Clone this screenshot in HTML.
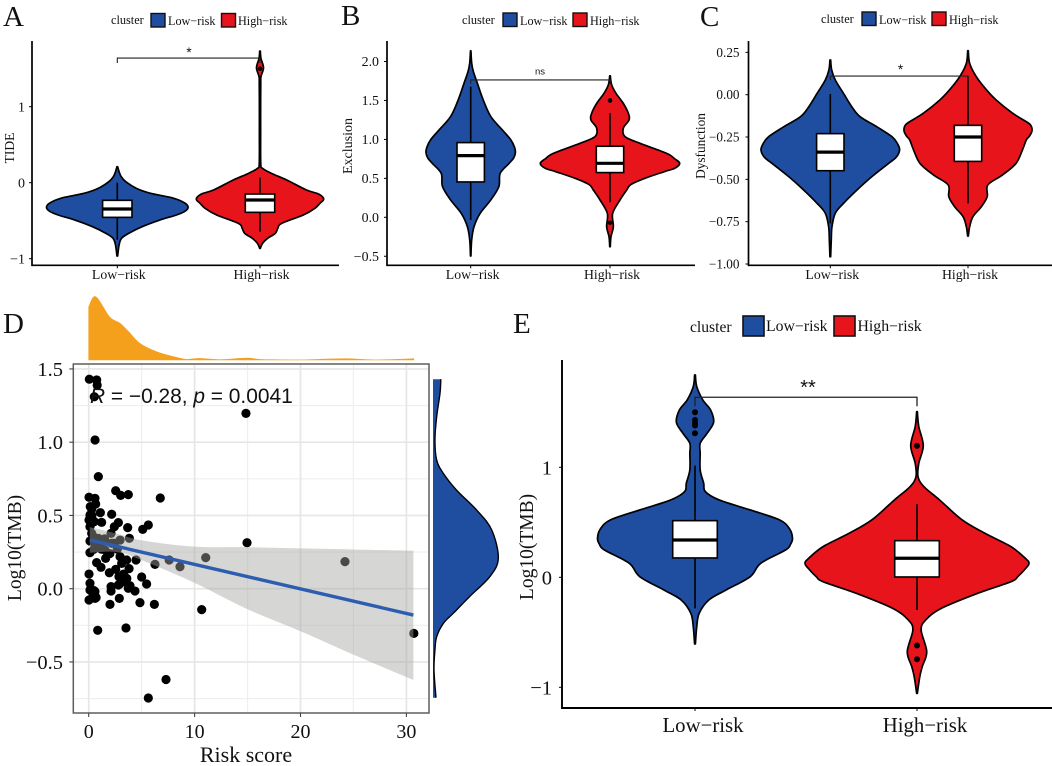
<!DOCTYPE html>
<html lang="en">
<head>
<meta charset="utf-8">
<title>Risk cluster immune score violins and TMB correlation</title>
<style>
html,body{margin:0;padding:0;background:#fff;}
svg{display:block;}
text{font-family:"Liberation Serif",serif;fill:#111;}
.sans{font-family:"Liberation Sans",sans-serif;}
</style>
</head>
<body>
<svg id="figure" xmlns="http://www.w3.org/2000/svg" width="1052" height="766" viewBox="0 0 1052 766">
  <rect x="0" y="0" width="1052" height="766" fill="#ffffff"/>

  <text x="3" y="26" font-size="29">A</text>
  <text x="341" y="25" font-size="29">B</text>
  <text x="700" y="26" font-size="29">C</text>
  <text x="3" y="333" font-size="29">D</text>
  <text x="513" y="333" font-size="29">E</text>

  <g>
    <text x="111" y="24" font-size="12.3">cluster</text>
    <rect x="151" y="13.5" width="14" height="13.5" fill="#1f4ea1" stroke="#111" stroke-width="1.4"/>
    <text x="168" y="25" font-size="12.2">Low−risk</text>
    <rect x="221.5" y="13.5" width="14" height="13.5" fill="#e8141c" stroke="#111" stroke-width="1.4"/>
    <text x="238" y="25" font-size="12.2">High−risk</text>
  </g>
  <g>
    <text x="462" y="24" font-size="12.3">cluster</text>
    <rect x="503" y="13" width="14" height="13.5" fill="#1f4ea1" stroke="#111" stroke-width="1.4"/>
    <text x="520" y="25" font-size="12.2">Low−risk</text>
    <rect x="573" y="13" width="14" height="13.5" fill="#e8141c" stroke="#111" stroke-width="1.4"/>
    <text x="590" y="25" font-size="12.2">High−risk</text>
  </g>
  <g>
    <text x="821" y="23" font-size="12.3">cluster</text>
    <rect x="862" y="12" width="14" height="13.5" fill="#1f4ea1" stroke="#111" stroke-width="1.4"/>
    <text x="879" y="24" font-size="12.2">Low−risk</text>
    <rect x="932" y="12" width="14" height="13.5" fill="#e8141c" stroke="#111" stroke-width="1.4"/>
    <text x="949" y="24" font-size="12.2">High−risk</text>
  </g>
  <g>
    <text x="690" y="332" font-size="15.6">cluster</text>
    <rect x="743" y="316" width="21" height="20" fill="#1f4ea1" stroke="#111" stroke-width="1.6"/>
    <text x="766" y="331" font-size="15.8">Low−risk</text>
    <rect x="834" y="316" width="21" height="20" fill="#e8141c" stroke="#111" stroke-width="1.6"/>
    <text x="857.5" y="331" font-size="15.8">High−risk</text>
  </g>

  <text transform="translate(14,148) rotate(-90)" text-anchor="middle" font-size="13.5">TIDE</text>
  <text transform="translate(352,146) rotate(-90)" text-anchor="middle" font-size="14">Exclusion</text>
  <text transform="translate(705,146) rotate(-90)" text-anchor="middle" font-size="13.3">Dysfunction</text>
  <text transform="translate(21,548) rotate(-90)" text-anchor="middle" font-size="19.5">Log10(TMB)</text>
  <text transform="translate(533,547) rotate(-90)" text-anchor="middle" font-size="19.5">Log10(TMB)</text>
  <text x="246" y="762" text-anchor="middle" font-size="22">Risk score</text>

  <g id="panel-a"></g>
  <g id="panel-b"></g>
  <g id="panel-c"></g>
  <g id="panel-d"></g>
  <g id="panel-e"></g>

  <text class="sans" x="90" y="403" font-size="20.9"><tspan font-style="italic" class="sans">R</tspan> = −0.28, <tspan font-style="italic" class="sans">p</tspan> = 0.0041</text>
</svg>

<script>
/* ---------- chart data ---------- */
const categories = ['Low−risk', 'High−risk'];

const tideTicks = [-1, 0, 1];
const tideTickLabels = ['−1', '0', '1'];
const tideLowValue = [0.21, 0.145, 0.08, 0.013, -0.075, -0.14, -0.2, -0.265, -0.325, -0.38, -0.43, -0.491, -0.579, -0.667, -0.732, -0.82, -0.965];
const tideLowDensity = [0.005, 0.025, 0.055, 0.12, 0.27, 0.47, 0.78, 0.95, 1, 0.95, 0.82, 0.6, 0.35, 0.16, 0.06, 0.025, 0.005];
const tideHighValue = [1.732, 1.636, 1.513, 1.395, 1.307, 1.088, 0.649, 0.254, 0.189, 0.123, 0.035, -0.096, -0.149, -0.215, -0.272, -0.338, -0.425, -0.535, -0.6, -0.667, -0.732, -0.798, -0.864];
const tideHighDensity = [0.005, 0.015, 0.055, 0.015, 0.012, 0.01, 0.01, 0.012, 0.04, 0.18, 0.42, 0.73, 0.92, 1, 0.94, 0.86, 0.68, 0.34, 0.28, 0.24, 0.12, 0.04, 0.005];
const tideLowBox = [-0.75, -0.456, -0.346, -0.232, 0];
const tideHighBox = [-0.645, -0.39, -0.228, -0.149, 0.066];
const tideLowOutliers = [];
const tideHighOutliers = [1.5];
const tideBracket = [1.64];

const exclusionTicks = [-0.5, 0, 0.5, 1, 1.5, 2];
const exclusionTickLabels = ['−0.5', '0.0', '0.5', '1.0', '1.5', '2.0'];
const exclusionLowValue = [2.136, 1.98, 1.87, 1.72, 1.507, 1.293, 1.12, 0.993, 0.9, 0.83, 0.76, 0.693, 0.565, 0.394, 0.223, 0.05, -0.12, -0.29, -0.497];
const exclusionLowDensity = [0.005, 0.022, 0.06, 0.15, 0.28, 0.45, 0.71, 0.9, 0.98, 1, 0.96, 0.86, 0.66, 0.63, 0.45, 0.21, 0.075, 0.022, 0.005];
const exclusionHighValue = [1.815, 1.7, 1.592, 1.464, 1.336, 1.25, 1.143, 1.036, 0.95, 0.822, 0.75, 0.693, 0.63, 0.586, 0.5, 0.42, 0.351, 0.223, 0.05, -0.12, -0.25, -0.377];
const exclusionHighDensity = [0.004, 0.024, 0.086, 0.19, 0.263, 0.273, 0.191, 0.215, 0.43, 0.81, 0.93, 1, 0.93, 0.78, 0.5, 0.3, 0.24, 0.144, 0.038, 0.048, 0.014, 0.004];
const exclusionLowBox = [-0.034, 0.454, 0.792, 0.959, 1.678];
const exclusionHighBox = [0.193, 0.574, 0.693, 0.912, 1.336];
const exclusionLowOutliers = [];
const exclusionHighOutliers = [1.5, -0.07];
const exclusionBracket = [1.763];

const dysfunctionTicks = [-1, -0.75, -0.5, -0.25, 0, 0.25];
const dysfunctionTickLabels = ['−1.00', '−0.75', '−0.50', '−0.25', '0.00', '0.25'];
const dysfunctionLowValue = [0.205, 0.146, 0.087, 0.008, -0.071, -0.13, -0.189, -0.248, -0.29, -0.327, -0.37, -0.406, -0.484, -0.563, -0.642, -0.7, -0.78, -0.858, -0.957];
const dysfunctionLowDensity = [0.005, 0.02, 0.072, 0.19, 0.31, 0.43, 0.67, 0.89, 0.97, 1, 0.95, 0.84, 0.6, 0.385, 0.19, 0.072, 0.024, 0.014, 0.005];
const dysfunctionHighValue = [0.26, 0.185, 0.106, 0.028, -0.031, -0.11, -0.159, -0.18, -0.213, -0.245, -0.268, -0.327, -0.406, -0.474, -0.533, -0.602, -0.661, -0.72, -0.78, -0.835];
const dysfunctionHighDensity = [0.005, 0.026, 0.13, 0.29, 0.44, 0.7, 0.91, 0.98, 1, 0.96, 0.91, 0.85, 0.75, 0.54, 0.31, 0.3, 0.21, 0.078, 0.026, 0.005];
const dysfunctionLowBox = [-0.76, -0.449, -0.339, -0.23, 0.004];
const dysfunctionHighBox = [-0.642, -0.394, -0.25, -0.181, 0.11];
const dysfunctionLowOutliers = [];
const dysfunctionHighOutliers = [];
const dysfunctionBracket = [0.11];

const tmbTicks = [-1, 0, 1];
const tmbTickLabels = ['−1', '0', '1'];
const tmbLowValue = [1.839, 1.733, 1.612, 1.521, 1.409, 1.309, 1.218, 1.127, 0.976, 0.855, 0.779, 0.703, 0.612, 0.521, 0.44, 0.355, 0.3, 0.248, 0.127, 0.006, -0.115, -0.206, -0.327, -0.448, -0.606];
const tmbLowDensity = [0.004, 0.018, 0.08, 0.16, 0.191, 0.124, 0.053, 0.053, 0.053, 0.089, 0.106, 0.248, 0.567, 0.869, 0.97, 1, 0.98, 0.929, 0.674, 0.567, 0.319, 0.142, 0.043, 0.018, 0.004];
const tmbHighValue = [1.506, 1.37, 1.197, 1.036, 0.915, 0.824, 0.703, 0.521, 0.4, 0.279, 0.17, 0.127, 0.08, 0.006, -0.04, -0.145, -0.282, -0.388, -0.479, -0.676, -0.812, -0.903, -1.055];
const tmbHighDensity = [0.003, 0.016, 0.056, 0.016, 0.009, 0.062, 0.202, 0.404, 0.606, 0.839, 0.97, 1, 0.97, 0.9, 0.839, 0.543, 0.217, 0.078, 0.037, 0.087, 0.047, 0.025, 0.003];
const tmbLowBox = [-0.282, 0.176, 0.339, 0.515, 1.015];
const tmbHighBox = [-0.297, 0.003, 0.173, 0.333, 0.667];
const tmbLowOutliers = [1.5, 1.43, 1.4, 1.38, 1.31];
const tmbHighOutliers = [1.195, -0.62, -0.745];
const tmbBracket = [1.637];

const scatterXTicks = [0, 10, 20, 30];
const scatterXTickLabels = ['0', '10', '20', '30'];
const scatterYTicks = [-0.5, 0, 0.5, 1, 1.5];
const scatterYTickLabels = ['−0.5', '0.0', '0.5', '1.0', '1.5'];
const scatterXMinorGrid = [5, 15, 25];
const scatterYMinorGrid = [-0.75, -0.25, 0.25, 0.75, 1.25];

const riskScores = [0.06, 0.75, 0.8, 0.53, 0.6, 0.91, 14.85, 2.55, 3.02, 3.74, 6.76, 0.03, 0.59, 0.66, 0.28, 1.1, 2.17, 0.12, 0.03, 0.53, 1.22, 2.8, 2.42, 0.12, 3.68, 5.63, 5.1, 2.11, 0.28, 2.96, 3.84, 0.12, 0.91, 1.07, 0.59, 2.17, 1.54, 0.12, 0.75, 1.16, 1.6, 2.96, 3.58, 4.47, 3.11, 3.81, 6.26, 7.6, 8.62, 11.05, 14.95, 0.03, 1.95, 2.55, 2.86, 5, 5.47, 0.12, 0.12, 0.59, 2.11, 2.8, 3.27, 3.74, 4.37, 2.11, 0.5, 0.03, 0.6, 2.01, 2.89, 4.84, 6.2, 10.67, 0.85, 3.52, 24.2, 30.7, 5.63, 7.3, 0.4, 0.8, 1.2, 0.5, 1.5, 2, 2.4, 2.7, 0.2, 0.3, 0.15, 3.3, 3.6, 3.9, 2.9, 0.2, 0.4, 0.7];
const tmbValues = [1.43, 1.425, 1.39, 1.31, 1.015, 0.765, 1.197, 0.669, 0.637, 0.642, 0.619, 0.624, 0.617, 0.578, 0.542, 0.519, 0.508, 0.503, 0.469, 0.458, 0.453, 0.451, 0.423, 0.423, 0.417, 0.435, 0.405, 0.378, 0.378, 0.332, 0.344, 0.326, 0.344, 0.298, 0.276, 0.31, 0.264, 0.246, 0.178, 0.146, 0.207, 0.219, 0.196, 0.196, 0.173, 0.137, 0.166, 0.196, 0.15, 0.212, 0.314, 0.1, 0.109, 0.132, 0.082, 0.08, 0.032, 0.037, -0.009, -0.02, 0.014, 0.025, 0.048, 0.003, -0.016, -0.016, -0.013, -0.077, -0.066, -0.107, -0.066, -0.095, -0.107, -0.143, -0.284, -0.268, 0.185, -0.305, -0.746, -0.62, 0.36, 0.31, 0.27, 0.27, 0.34, 0.24, 0.31, 0.27, 0.44, 0.5, 0.56, 0.1, 0.07, 0.02, 0.03, 0, -0.05, -0.06];

const fitRisk = [0.1, 30.66];
const fitTmb = [0.332, -0.18];
const bandRisk = [0.1, 2.7, 5, 10, 15, 20, 25, 30.66];
const bandUpper = [0.42, 0.375, 0.33, 0.287, 0.283, 0.275, 0.268, 0.259];
const bandLower = [0.245, 0.25, 0.195, 0.04, -0.14, -0.29, -0.45, -0.623];

const topDensityRisk = [0, 0.66, 1.98, 2.95, 3.75, 4.85, 6.42, 8.31, 9.25, 10.5, 12.4, 14.9, 16.2, 18, 20, 24.2, 27, 30.7];
const topDensityValue = [0.84, 1, 0.68, 0.58, 0.45, 0.26, 0.13, 0.04, 0.01, 0.025, 0.005, 0.03, 0.01, 0.004, 0.002, 0.02, 0.002, 0.02];
const rightDensityTmb = [1.43, 1.333, 1.174, 1.015, 0.878, 0.787, 0.673, 0.536, 0.4, 0.207, 0.082, -0.054, -0.168, -0.237, -0.328, -0.418, -0.555, -0.744];
const rightDensityValue = [0.12, 0.107, 0.056, 0.03, 0.056, 0.158, 0.36, 0.67, 0.9, 1, 0.87, 0.56, 0.31, 0.158, 0.056, 0.03, 0.015, 0.046];

/* ---------- helpers ---------- */
const SVG_NS = 'http://www.w3.org/2000/svg';
const BLUE = '#1f4ea1';
const RED = '#e8141c';

function make(tag, attrs, parent) {
  const el = document.createElementNS(SVG_NS, tag);
  for (const key in attrs) el.setAttribute(key, attrs[key]);
  parent.appendChild(el);
  return el;
}

function smooth(points) {
  let d = '';
  for (let i = 0; i < points.length - 1; i++) {
    const p0 = points[Math.max(i - 1, 0)];
    const p1 = points[i];
    const p2 = points[i + 1];
    const p3 = points[Math.min(i + 2, points.length - 1)];
    const c1x = p1[0] + (p2[0] - p0[0]) / 6;
    const c1y = p1[1] + (p2[1] - p0[1]) / 6;
    const c2x = p2[0] - (p3[0] - p1[0]) / 6;
    const c2y = p2[1] - (p3[1] - p1[1]) / 6;
    d += 'C' + c1x.toFixed(2) + ' ' + c1y.toFixed(2) + ' ' + c2x.toFixed(2) + ' ' + c2y.toFixed(2) + ' ' + p2[0].toFixed(2) + ' ' + p2[1].toFixed(2);
  }
  return d;
}

function drawViolin(g, name, cx, fill, maxHalf, values, density, yScale, strokeW) {
  const right = values.map((v, i) => [cx + density[i] * maxHalf, yScale(v)]);
  const left = values.map((v, i) => [cx - density[i] * maxHalf, yScale(v)]).reverse();
  const d = 'M' + cx + ' ' + yScale(values[0]).toFixed(2) + 'L' + right[0][0].toFixed(2) + ' ' + right[0][1].toFixed(2) + smooth(right) +
    'L' + left[0][0].toFixed(2) + ' ' + left[0][1].toFixed(2) + smooth(left) + 'Z';
  const el = make('path', { d: d, fill: fill, stroke: '#000', 'stroke-width': strokeW, 'stroke-linejoin': 'round' }, g);
  
  
}

function drawBox(g, name, cx, halfBox, stats, outliers, yScale, lineW, dotR) {
  const whisker = make('line', { x1: cx, x2: cx, y1: yScale(stats[0]), y2: yScale(stats[4]), stroke: '#000', 'stroke-width': lineW }, g);
  
  
  const box = make('rect', { x: cx - halfBox, y: yScale(stats[3]), width: halfBox * 2, height: yScale(stats[1]) - yScale(stats[3]), fill: '#fff', stroke: '#000', 'stroke-width': lineW }, g);
  
  
  const median = make('line', { x1: cx - halfBox, x2: cx + halfBox, y1: yScale(stats[2]), y2: yScale(stats[2]), stroke: '#000', 'stroke-width': lineW * 2 }, g);
  
  
  outliers.forEach(function (v) {
    const dot = make('circle', { cx: cx, cy: yScale(v), r: dotR, fill: '#000' }, g);
    
    
  });
}

function drawViolinPanel(id, o) {
  const g = document.getElementById(id);
  const yScale = function (v) { return o.zeroY - v * o.pxPerUnit; };
  const xScale = function (i) { return o.centers[i]; };

  drawViolin(g, 'low-risk', xScale(0), BLUE, o.halfLow, o.lowValue, o.lowDensity, yScale, o.violinW);
  drawViolin(g, 'high-risk', xScale(1), RED, o.halfHigh, o.highValue, o.highDensity, yScale, o.violinW);
  drawBox(g, 'low-risk', xScale(0), o.halfBox, o.lowBox, o.lowOut, yScale, o.line, o.dotR);
  drawBox(g, 'high-risk', xScale(1), o.halfBox, o.highBox, o.highOut, yScale, o.line, o.dotR);

  const by = yScale(o.bracket[0]);
  const bracket = make('path', {
    d: 'M' + xScale(0) + ' ' + (by + o.tip) + 'V' + by + 'H' + xScale(1) + 'V' + (by + o.tip),
    fill: 'none', stroke: '#222', 'stroke-width': o.bracketW
  }, g);
  
  
  const sig = make('text', { x: o.sigX, y: o.sigY, 'text-anchor': 'middle', 'font-size': o.sigSize, class: 'sans' }, g);
  
  
  sig.textContent = o.sig;

  const yAxis = make('line', { x1: o.left, x2: o.left, y1: o.top, y2: o.bottom + o.axisW / 2, stroke: '#000', 'stroke-width': o.axisW }, g);
  
  
  const xAxis = make('line', { x1: o.left, x2: o.right, y1: o.bottom, y2: o.bottom, stroke: '#000', 'stroke-width': o.axisW }, g);
  
  

  o.ticks.forEach(function (v, i) {
    const tick = make('line', { x1: o.left - 3, x2: o.left, y1: yScale(v), y2: yScale(v), stroke: '#000', 'stroke-width': 1 }, g);
    
    
    const label = make('text', { x: o.left - o.tickGap, y: yScale(v) + o.tickSize * 0.34, 'text-anchor': 'end', 'font-size': o.tickSize }, g);
    
    
    label.textContent = o.tickLabels[i];
  });
  categories.forEach(function (c, i) {
    const tick = make('line', { x1: xScale(i), x2: xScale(i), y1: o.bottom, y2: o.bottom + 3, stroke: '#000', 'stroke-width': 1 }, g);
    
    
    const label = make('text', { x: xScale(i) + o.catShift, y: o.catY, 'text-anchor': 'middle', 'font-size': o.catSize }, g);
    
    
    label.textContent = c;
  });
}

/* ---------- panels A, B, C, E ---------- */
drawViolinPanel('panel-a', {
  zeroY: 182.7, pxPerUnit: 76, centers: [117.3, 260], halfLow: 70.8, halfHigh: 63.7, halfBox: 14.7,
  lowValue: tideLowValue, lowDensity: tideLowDensity, highValue: tideHighValue, highDensity: tideHighDensity,
  lowBox: tideLowBox, highBox: tideHighBox, lowOut: tideLowOutliers, highOut: tideHighOutliers,
  bracket: tideBracket, tip: 5, bracketW: 1.1, sig: '*', sigX: 189, sigY: 57, sigSize: 13.5,
  left: 32, right: 339, top: 41, bottom: 265.3, axisW: 1.7, line: 1.6, violinW: 1.7, dotR: 2.3,
  ticks: tideTicks, tickLabels: tideTickLabels, tickSize: 14, tickGap: 7,
  catShift: 1.5, catY: 279, catSize: 13.8
});
drawViolinPanel('panel-b', {
  zeroY: 217.3, pxPerUnit: 77.9, centers: [470.7, 610], halfLow: 44.7, halfHigh: 69.7, halfBox: 13.7,
  lowValue: exclusionLowValue, lowDensity: exclusionLowDensity, highValue: exclusionHighValue, highDensity: exclusionHighDensity,
  lowBox: exclusionLowBox, highBox: exclusionHighBox, lowOut: exclusionLowOutliers, highOut: exclusionHighOutliers,
  bracket: exclusionBracket, tip: 4, bracketW: 1.1, sig: 'ns', sigX: 540, sigY: 74.5, sigSize: 9.5,
  left: 387, right: 695, top: 41, bottom: 265.3, axisW: 1.7, line: 1.6, violinW: 1.7, dotR: 2.3,
  ticks: exclusionTicks, tickLabels: exclusionTickLabels, tickSize: 13.9, tickGap: 8,
  catShift: 2, catY: 279, catSize: 13.8
});
drawViolinPanel('panel-c', {
  zeroY: 94.7, pxPerUnit: 169.3, centers: [830.3, 968], halfLow: 69.3, halfHigh: 64, halfBox: 13.7,
  lowValue: dysfunctionLowValue, lowDensity: dysfunctionLowDensity, highValue: dysfunctionHighValue, highDensity: dysfunctionHighDensity,
  lowBox: dysfunctionLowBox, highBox: dysfunctionHighBox, lowOut: dysfunctionLowOutliers, highOut: dysfunctionHighOutliers,
  bracket: dysfunctionBracket, tip: 4, bracketW: 1.1, sig: '*', sigX: 900.5, sigY: 74, sigSize: 13.5,
  left: 748.5, right: 1052, top: 41, bottom: 265.3, axisW: 1.7, line: 1.6, violinW: 1.7, dotR: 2.3,
  ticks: dysfunctionTicks, tickLabels: dysfunctionTickLabels, tickSize: 13.2, tickGap: 9,
  catShift: 2, catY: 279, catSize: 13.8
});
drawViolinPanel('panel-e', {
  zeroY: 577.3, pxPerUnit: 110, centers: [695, 917], halfLow: 97.5, halfHigh: 112, halfBox: 22.3,
  lowValue: tmbLowValue, lowDensity: tmbLowDensity, highValue: tmbHighValue, highDensity: tmbHighDensity,
  lowBox: tmbLowBox, highBox: tmbHighBox, lowOut: tmbLowOutliers, highOut: tmbHighOutliers,
  bracket: tmbBracket, tip: 9, bracketW: 1.3, sig: '**', sigX: 808, sigY: 394, sigSize: 20,
  left: 562, right: 1052, top: 360, bottom: 708, axisW: 1.9, line: 1.6, violinW: 1.7, dotR: 3,
  ticks: tmbTicks, tickLabels: tmbTickLabels, tickSize: 20.5, tickGap: 10,
  catShift: 8, catY: 732, catSize: 20.8
});

/* ---------- panel D: scatter with marginal densities ---------- */
(function () {
  const g = document.getElementById('panel-d');
  const frame = { left: 73.3, right: 429, top: 364, bottom: 713 };
  const x = function (v) { return 88.7 + v * 10.59; };
  const y = function (v) { return 588.7 - v * 146.5; };

  scatterYMinorGrid.forEach(function (v) {
    const line = make('line', { x1: frame.left, x2: frame.right, y1: y(v), y2: y(v), stroke: '#efefef', 'stroke-width': 1.2 }, g);
    
    
  });
  scatterXMinorGrid.forEach(function (v) {
    const line = make('line', { x1: x(v), x2: x(v), y1: frame.top, y2: frame.bottom, stroke: '#efefef', 'stroke-width': 1.2 }, g);
    
    
  });
  scatterYTicks.forEach(function (v) {
    const line = make('line', { x1: frame.left, x2: frame.right, y1: y(v), y2: y(v), stroke: '#e6e6e6', 'stroke-width': 1.7 }, g);
    
    
  });
  scatterXTicks.forEach(function (v) {
    const line = make('line', { x1: x(v), x2: x(v), y1: frame.top, y2: frame.bottom, stroke: '#e6e6e6', 'stroke-width': 1.7 }, g);
    
    
  });

  riskScores.forEach(function (r, i) {
    const dot = make('circle', { cx: x(r), cy: y(tmbValues[i]), r: 4.6, fill: '#000' }, g);
    
    
  });

  const upperPts = bandRisk.map(function (r, i) { return [x(r), y(bandUpper[i])]; });
  const lowerPts = bandRisk.map(function (r, i) { return [x(r), y(bandLower[i])]; }).reverse();
  const band = make('path', {
    d: 'M' + upperPts[0][0] + ' ' + upperPts[0][1] + smooth(upperPts) + 'L' + lowerPts[0][0] + ' ' + lowerPts[0][1] + smooth(lowerPts) + 'Z',
    fill: '#a3a39f', 'fill-opacity': 0.45
  }, g);
  
  

  const fit = make('line', { x1: x(fitRisk[0]), x2: x(fitRisk[1]), y1: y(fitTmb[0]), y2: y(fitTmb[1]), stroke: '#2d5db0', 'stroke-width': 3.4 }, g);
  
  

  const border = make('rect', { x: frame.left, y: frame.top, width: frame.right - frame.left, height: frame.bottom - frame.top, fill: 'none', stroke: '#5e5e5e', 'stroke-width': 1.5 }, g);
  
  

  scatterYTicks.forEach(function (v, i) {
    const tick = make('line', { x1: frame.left - 4, x2: frame.left, y1: y(v), y2: y(v), stroke: '#444', 'stroke-width': 1.1 }, g);
    
    
    const label = make('text', { x: 63, y: y(v) + 6.8, 'text-anchor': 'end', 'font-size': 20.5 }, g);
    
    
    label.textContent = scatterYTickLabels[i];
  });
  scatterXTicks.forEach(function (v, i) {
    const tick = make('line', { x1: x(v), x2: x(v), y1: frame.bottom, y2: frame.bottom + 4, stroke: '#444', 'stroke-width': 1.1 }, g);
    
    
    const label = make('text', { x: x(v), y: 738, 'text-anchor': 'middle', 'font-size': 20 }, g);
    
    
    label.textContent = scatterXTickLabels[i];
  });

  const topBase = 360;
  const topHeight = 63.3;
  const topPts = topDensityRisk.map(function (r, i) { return [x(r), topBase - topDensityValue[i] * topHeight]; });
  const topArea = make('path', {
    d: 'M' + topPts[0][0] + ' ' + topBase + 'L' + topPts[0][0] + ' ' + topPts[0][1] + smooth(topPts) + 'L' + topPts[topPts.length - 1][0] + ' ' + topBase + 'Z',
    fill: '#f5a01c', stroke: '#f5a01c', 'stroke-width': 0.6
  }, g);
  
  

  const sideBase = 433;
  const sideWidth = 65.3;
  const sidePts = rightDensityTmb.map(function (v, i) { return [sideBase + rightDensityValue[i] * sideWidth, y(v)]; });
  const sideArea = make('path', {
    d: 'M' + sideBase + ' ' + sidePts[0][1] + 'L' + sidePts[0][0] + ' ' + sidePts[0][1] + smooth(sidePts) + 'L' + sideBase + ' ' + sidePts[sidePts.length - 1][1] + 'Z',
    fill: BLUE
  }, g);
  
  
  const sideLine = make('path', {
    d: 'M' + sidePts[0][0] + ' ' + sidePts[0][1] + smooth(sidePts),
    fill: 'none', stroke: '#000', 'stroke-width': 1.4
  }, g);
  
  
})();
</script>
</body>
</html>
